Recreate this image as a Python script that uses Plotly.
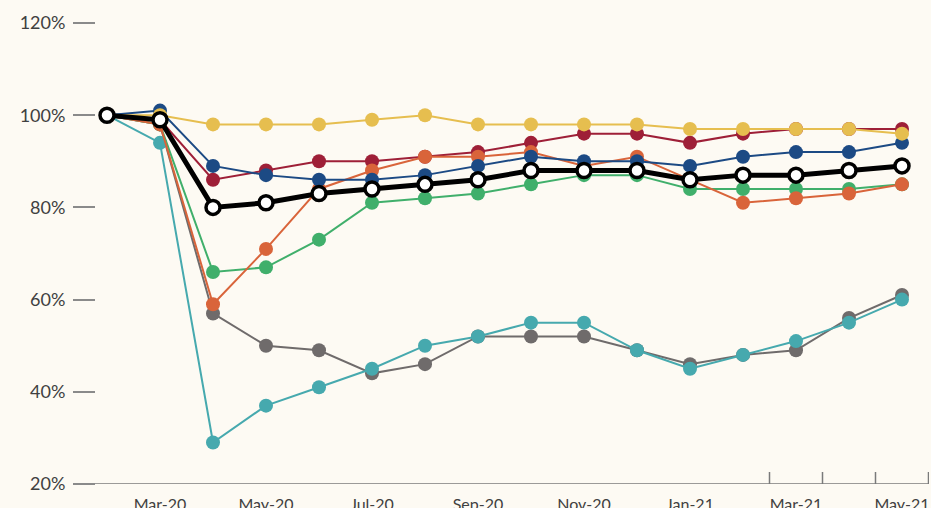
import plotly.graph_objects as go

months = ["Feb-20", "Mar-20", "Apr-20", "May-20", "Jun-20", "Jul-20", "Aug-20", "Sep-20",
          "Oct-20", "Nov-20", "Dec-20", "Jan-21", "Feb-21", "Mar-21", "Apr-21", "May-21"]

grey_vals   = [100, 98, 57, 50, 49, 44, 46, 52, 52, 52, 49, 46, 48, 49, 56, 61]
teal_vals   = [100, 94, 29, 37, 41, 45, 50, 52, 55, 55, 49, 45, 48, 51, 55, 60]
green_vals  = [100, 98, 66, 67, 73, 81, 82, 83, 85, 87, 87, 84, 84, 84, 84, 85]
red_vals    = [100, 99, 86, 88, 90, 90, 91, 92, 94, 96, 96, 94, 96, 97, 97, 97]
orange_vals = [100, 98, 59, 71, 84, 88, 91, 91, 92, 89, 91, 86, 81, 82, 83, 85]
navy_vals   = [100, 101, 89, 87, 86, 86, 87, 89, 91, 90, 90, 89, 91, 92, 92, 94]
yellow_vals = [100, 100, 98, 98, 98, 99, 100, 98, 98, 98, 98, 97, 97, 97, 97, 96]
total_vals  = [100, 99, 80, 81, 83, 84, 85, 86, 88, 88, 88, 86, 87, 87, 88, 89]

tick_labels = ["Mar-20", "May-20", "Jul-20", "Sep-20", "Nov-20", "Jan-21", "Mar-21", "May-21"]
y_ticks = [20, 40, 60, 80, 100, 120]

series = [
    (grey_vals, "#6F6B6B"),
    (teal_vals, "#46A9AE"),
    (green_vals, "#40AF6B"),
    (red_vals, "#9E1F37"),
    (orange_vals, "#D9643A"),
    (navy_vals, "#1C4A84"),
    (yellow_vals, "#E6BE4F"),
]

x_idx = list(range(len(months)))

fig = go.Figure()
for vals, col in series:
    fig.add_trace(go.Scatter(
        x=x_idx, y=vals, mode="lines+markers",
        line=dict(color=col, width=2),
        marker=dict(color=col, size=14, line=dict(width=0)),
        hoverinfo="skip", showlegend=False, cliponaxis=False,
    ))

fig.add_trace(go.Scatter(
    x=x_idx, y=total_vals, mode="lines+markers",
    line=dict(color="#000000", width=5),
    marker=dict(color="#FFFFFF", size=14, line=dict(color="#000000", width=3.5)),
    hoverinfo="skip", showlegend=False, cliponaxis=False,
))

tickvals = [months.index(t) for t in tick_labels]

# x axis baseline (extends slightly left of the plot area)
fig.add_shape(type="line", xref="paper", yref="y", x0=-16/833, x1=1.0, y0=20, y1=20,
              line=dict(color="#7a7a7a", width=1.5), layer="below")
# tick marks between the last months
for i in range(12, 16):
    fig.add_shape(type="line", xref="x", yref="paper", x0=i + 0.5, x1=i + 0.5,
                  y0=0, y1=12/461, line=dict(color="#7a7a7a", width=1.5))

fig.update_layout(
    width=931, height=508,
    margin=dict(l=96, r=2, t=23, b=24, autoexpand=False),
    paper_bgcolor="#FDFAF3", plot_bgcolor="#FDFAF3",
    font=dict(family="Lato", color="#404040"),
    showlegend=False,
)
fig.update_xaxes(
    range=[-11/53, 15 + 27/53],
    tickvals=tickvals, ticktext=tick_labels,
    showgrid=False, zeroline=False, showline=False, ticks="",
    tickfont=dict(size=16, color="#404040"), ticklabelstandoff=9,
    automargin=False,
)
fig.update_yaxes(
    range=[20, 120], tickvals=y_ticks, ticktext=[f"{v}%" for v in y_ticks],
    showgrid=False, zeroline=False, showline=False,
    ticks="outside", ticklen=22, tickwidth=1.5, tickcolor="#8a8a8a",
    tickfont=dict(size=18, color="#404040"), ticklabelstandoff=4,
    automargin=False,
)

fig.write_html(
    "out.html",
    config={"displayModeBar": False},
    post_script="document.body.style.margin='0';document.body.style.overflow='hidden';document.body.style.background='#FDFAF3';",
)
